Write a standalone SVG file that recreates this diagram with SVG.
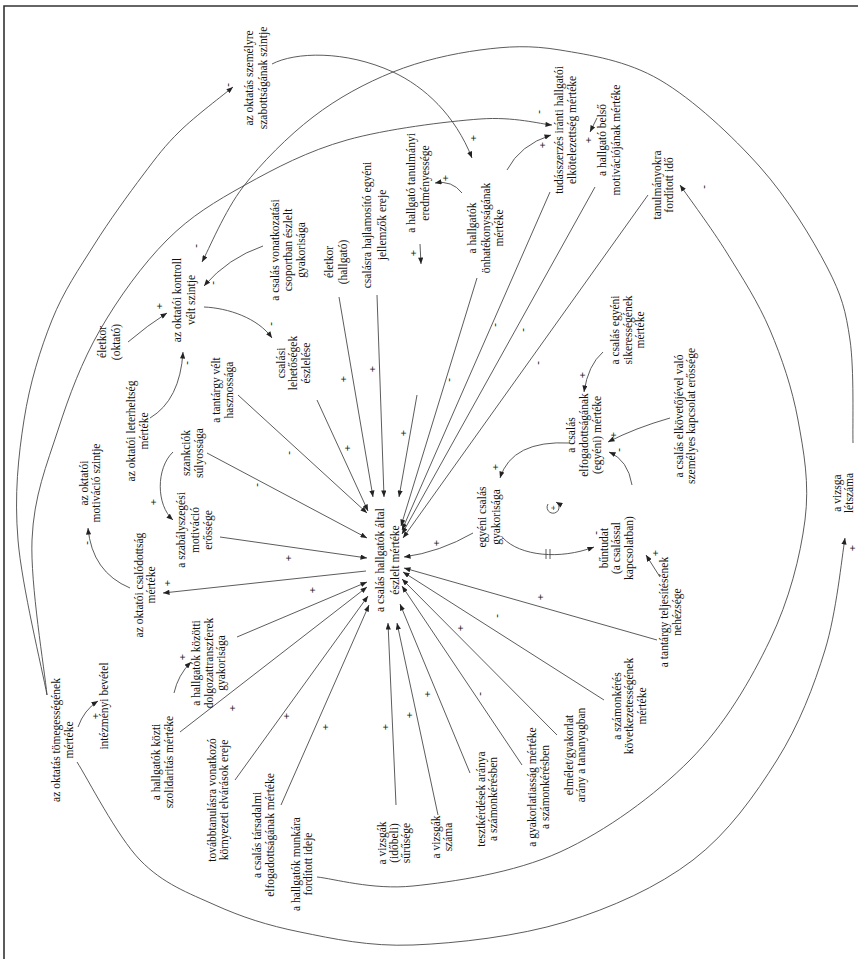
<svg xmlns="http://www.w3.org/2000/svg" width="858" height="959" viewBox="0 0 858 959">
<style>
.t{font-family:"Liberation Serif","Times New Roman",serif;font-size:11.5px;fill:#111;text-anchor:middle}
.s{font-family:"Liberation Serif","Times New Roman",serif;font-size:11px;font-weight:bold;fill:#222;text-anchor:middle;dominant-baseline:central}
.c path{fill:none;stroke:#4a4a4a;stroke-width:0.9;marker-end:url(#ah)}
.c path.n{marker-end:none}
</style>
<defs>
<marker id="ah" viewBox="0 0 10 8" refX="10" refY="4" markerWidth="7" markerHeight="5.2" markerUnits="userSpaceOnUse" orient="auto"><path d="M0,0 L10,4 L0,8 z" fill="#222"/></marker>
</defs>
<rect width="858" height="959" fill="#fff"/>
<path d="M4,959 V6 H858" fill="none" stroke="#333" stroke-width="1.6"/>

<g id="connectors" class="c">
<path d="M317,400 L368,511"/>
<path d="M339,297 L373,497"/>
<path d="M377,295 L384,497"/>
<path d="M417,395 L399,497"/>
<path d="M477,278 L401,526"/>
<path d="M550,192 L402,530"/>
<path d="M595,187 L402,534"/>
<path d="M648,195 L403,538"/>
<path d="M473,533 Q440,552 404,557"/>
<path d="M657,640 L404,568"/>
<path d="M604,700 L403,572"/>
<path d="M557,735 L402,579"/>
<path d="M522,765 L402,586"/>
<path d="M470,773 L400,604"/>
<path d="M438,815 L397,623"/>
<path d="M396,805 L388,623"/>
<path d="M281,805 L369,605"/>
<path d="M235,780 L368,596"/>
<path d="M180,732 L367,587"/>
<path d="M237,637 L367,582"/>
<path d="M220,537 L367,558"/>
<path d="M207,453 L367,538"/>
<path d="M238,395 L367,513"/>
<path d="M366,571 L163,593"/>
<path d="M130,588 Q92,572 88,528"/>
<path d="M173,452 C156,468 156,505 173,520"/>
<path d="M150,418 Q180,400 183,352"/>
<path d="M128,342 Q148,325 167,313"/>
<path d="M263,246 Q228,258 204,286"/>
<path d="M204,307 C228,308 258,318 272,338"/>
<path d="M853,443 C852.5,425.8 854.3,369.3 850,340 C845.7,310.7 842,295.8 827,267 C812,238.2 787.8,198.2 760,167 C732.2,135.8 693.3,99.5 660,80 C626.7,60.5 590,55 560,50 C530,45 507.8,46.3 480,50 C452.2,53.7 420.8,60.8 393,72 C365.2,83.2 338,97.8 313,117 C288,136.2 261.5,162.8 243,187 C224.5,211.2 208.8,249.5 202,262"/>
<path d="M47,695 C42.2,669.2 21.8,585.8 18,540 C14.2,494.2 18.3,456.7 24,420 C29.7,383.3 40.3,349.2 52,320 C63.7,290.8 78.8,269.2 94,245 C109.2,220.8 128.7,194 143,175 C157.3,156 165,145.7 180,131 C195,116.3 224.2,94.3 233,87"/>
<path d="M47,695 C44.5,669.2 30.2,584.2 32,540 C33.8,495.8 46.7,465 58,430 C69.3,395 81.8,361.7 100,330 C118.2,298.3 142.8,264.2 167,240 C191.2,215.8 215,201.7 245,185 C275,168.3 307.8,151 347,140 C386.2,129 445.8,121.5 480,119 C514.2,116.5 540,124 552,125"/>
<path d="M272,64 C295,52 345,50 393,72 C425,87 455,115 472,158"/>
<path d="M462,193 Q452,180 435,183"/>
<path d="M507,170 Q520,145 551,135"/>
<path d="M597,118 L590,132"/>
<path d="M420,244 L421,264"/>
<path d="M317,877 C333,878.5 372.5,890.2 413,886 C453.5,881.8 513.8,873 560,852 C606.2,831 655,795.3 690,760 C725,724.7 750.8,680 770,640 C789.2,600 800.3,556.7 805,520 C809.7,483.3 803.8,451.7 798,420 C792.2,388.3 781.8,357.8 770,330 C758.2,302.2 742,277.2 727,253 C712,228.8 687.8,196.3 680,185"/>
<path d="M77,762 C87.5,778.3 117,836.2 140,860 C163,883.8 188.3,893 215,905 C241.7,917 267,925.3 300,932 C333,938.7 368.8,946.7 413,945 C457.2,943.3 518.3,936.2 565,922 C611.7,907.8 657.7,887 693,860 C728.3,833 755,795 777,760 C799,725 813.7,686.7 825,650 C836.3,613.3 841.7,558.3 845,538"/>
<path d="M603,352 Q588,365 584,392"/>
<path d="M670,418 Q635,428 608,442"/>
<path d="M632,485 Q628,460 609,452"/>
<path d="M660,577 L646,555"/>
<path d="M503,538 C520,556 560,560 594,547"/>
<path d="M570,443 Q512,440 500,478"/>
<path d="M174,693 Q178,675 191,662"/>
<path d="M78,727 Q84,710 98,701"/>
<path class="n" d="M546,549 V559 M550,549 V559"/>
<path d="M548,504 A6,6 0 1 0 556,502"/>
</g>

<g id="signs">
<text class="s" transform="translate(343,379) rotate(-90)">+</text>
<text class="s" transform="translate(372,369) rotate(-90)">+</text>
<text class="s" transform="translate(347,448) rotate(-90)">+</text>
<text class="s" transform="translate(403,433) rotate(-90)">+</text>
<text class="s" transform="translate(448,380) rotate(-90)">-</text>
<text class="s" transform="translate(494,325) rotate(-90)">-</text>
<text class="s" transform="translate(522,330) rotate(-90)">-</text>
<text class="s" transform="translate(537,363) rotate(-90)">-</text>
<text class="s" transform="translate(436,543) rotate(-90)">+</text>
<text class="s" transform="translate(540,597) rotate(-90)">+</text>
<text class="s" transform="translate(496,616) rotate(-90)">-</text>
<text class="s" transform="translate(460,628) rotate(-90)">+</text>
<text class="s" transform="translate(479,694) rotate(-90)">-</text>
<text class="s" transform="translate(427,694) rotate(-90)">+</text>
<text class="s" transform="translate(409,715) rotate(-90)">+</text>
<text class="s" transform="translate(385,727) rotate(-90)">+</text>
<text class="s" transform="translate(325,727) rotate(-90)">+</text>
<text class="s" transform="translate(286,716) rotate(-90)">+</text>
<text class="s" transform="translate(232,708) rotate(-90)">+</text>
<text class="s" transform="translate(312,590) rotate(-90)">+</text>
<text class="s" transform="translate(288,558) rotate(-90)">+</text>
<text class="s" transform="translate(256,485) rotate(-90)">-</text>
<text class="s" transform="translate(288,453) rotate(-90)">-</text>
<text class="s" transform="translate(167,583) rotate(-90)">+</text>
<text class="s" transform="translate(86,543) rotate(-90)">-</text>
<text class="s" transform="translate(153,502) rotate(-90)">+</text>
<text class="s" transform="translate(186,363) rotate(-90)">-</text>
<text class="s" transform="translate(159,306) rotate(-90)">+</text>
<text class="s" transform="translate(212,283) rotate(-90)">-</text>
<text class="s" transform="translate(195,246) rotate(-90)">-</text>
<text class="s" transform="translate(270,324) rotate(-90)">-</text>
<text class="s" transform="translate(227,85) rotate(-90)">-</text>
<text class="s" transform="translate(473,138) rotate(-90)">+</text>
<text class="s" transform="translate(445,178) rotate(-90)">+</text>
<text class="s" transform="translate(413,253) rotate(-90)">+</text>
<text class="s" transform="translate(538,112) rotate(-90)">-</text>
<text class="s" transform="translate(542,145) rotate(-90)">+</text>
<text class="s" transform="translate(588,140) rotate(-90)">+</text>
<text class="s" transform="translate(703,187) rotate(-90)">-</text>
<text class="s" transform="translate(582,375) rotate(-90)">+</text>
<text class="s" transform="translate(613,435) rotate(-90)">+</text>
<text class="s" transform="translate(618,450) rotate(-90)">-</text>
<text class="s" transform="translate(655,553) rotate(-90)">+</text>
<text class="s" transform="translate(595,533) rotate(-90)">-</text>
<text class="s" transform="translate(495,467) rotate(-90)">+</text>
<text class="s" transform="translate(852,548) rotate(-90)">+</text>
<text class="s" transform="translate(182,657) rotate(-90)">+</text>
<text class="s" transform="translate(95,716) rotate(-90)">+</text>
<text class="s" transform="translate(553,508) rotate(-90)" style="font-size:9px">+</text>
</g>

<g id="n-center"><text class="t" transform="translate(384,560) rotate(-90)"><tspan x="0" y="0">a csalás hallgatók által</tspan><tspan x="0" y="15">észlelt mértéke</tspan></text></g>
<g id="n-szemelyre"><text class="t" transform="translate(253,78) rotate(-90)"><tspan x="0" y="0">az oktatás személyre</tspan><tspan x="0" y="14">szabottságának szintje</tspan></text></g>
<g id="n-vonatkozatasi"><text class="t" transform="translate(279,250) rotate(-90)"><tspan x="0" y="0">a csalás vonatkozatási</tspan><tspan x="0" y="13">csoportban észlelt</tspan><tspan x="0" y="26">gyakorisága</tspan></text></g>
<g id="n-kontroll"><text class="t" transform="translate(181,300) rotate(-90)"><tspan x="0" y="0">az oktatói kontroll</tspan><tspan x="0" y="14">vélt szintje</tspan></text></g>
<g id="n-eletkor-oktato"><text class="t" transform="translate(106,342) rotate(-90)"><tspan x="0" y="0">életkor</tspan><tspan x="0" y="14">(oktató)</tspan></text></g>
<g id="n-leterheltseg"><text class="t" transform="translate(135,431) rotate(-90)"><tspan x="0" y="0">az oktatói leterheltség</tspan><tspan x="0" y="13">mértéke</tspan></text></g>
<g id="n-motivacio"><text class="t" transform="translate(88,483) rotate(-90)"><tspan x="0" y="0">az oktatói</tspan><tspan x="0" y="12">motiváció szintje</tspan></text></g>
<g id="n-csalodottsag"><text class="t" transform="translate(143,585) rotate(-90)"><tspan x="0" y="0">az oktatói csalódottság</tspan><tspan x="0" y="12">mértéke</tspan></text></g>
<g id="n-hasznossag"><text class="t" transform="translate(220,390) rotate(-90)"><tspan x="0" y="0">a tantárgy vélt</tspan><tspan x="0" y="13">hasznossága</tspan></text></g>
<g id="n-szankciok"><text class="t" transform="translate(190,453) rotate(-90)"><tspan x="0" y="0">szankciók</tspan><tspan x="0" y="13">súlyossága</tspan></text></g>
<g id="n-szabalyszegesi"><text class="t" transform="translate(185,530) rotate(-90)"><tspan x="0" y="0">a szabályszegési</tspan><tspan x="0" y="14">motiváció</tspan><tspan x="0" y="27">erőssége</tspan></text></g>
<g id="n-csalasi-lehetosegek"><text class="t" transform="translate(285,363) rotate(-90)"><tspan x="0" y="0">csalási</tspan><tspan x="0" y="12">lehetőségek</tspan><tspan x="0" y="25">észlelése</tspan></text></g>
<g id="n-eletkor-hallgato"><text class="t" transform="translate(333,262) rotate(-90)"><tspan x="0" y="0">életkor</tspan><tspan x="0" y="14">(hallgató)</tspan></text></g>
<g id="n-hajlamosito"><text class="t" transform="translate(371,225) rotate(-90)"><tspan x="0" y="0">csalásra hajlamosító egyéni</tspan><tspan x="0" y="15">jellemzők ereje</tspan></text></g>
<g id="n-eredmenyesseg"><text class="t" transform="translate(415,183) rotate(-90)"><tspan x="0" y="0">a hallgató tanulmányi</tspan><tspan x="0" y="14">eredményessége</tspan></text></g>
<g id="n-onhatekonysag"><text class="t" transform="translate(476,228) rotate(-90)"><tspan x="0" y="0">a hallgatók</tspan><tspan x="0" y="14">önhatékonyságának</tspan><tspan x="0" y="27">mértéke</tspan></text></g>
<g id="n-tudasszerzes"><text class="t" transform="translate(563,130) rotate(-90)"><tspan x="0" y="0">tudásszerzés iránti hallgatói</tspan><tspan x="0" y="13">elkötelezettség mértéke</tspan></text></g>
<g id="n-belso-motivacio"><text class="t" transform="translate(606,140) rotate(-90)"><tspan x="0" y="0">a hallgató belső</tspan><tspan x="0" y="14">motivációjának mértéke</tspan></text></g>
<g id="n-tanulmanyokra"><text class="t" transform="translate(661,185) rotate(-90)"><tspan x="0" y="0">tanulmányokra</tspan><tspan x="0" y="12">fordított idő</tspan></text></g>
<g id="n-sikeresseg"><text class="t" transform="translate(619,330) rotate(-90)"><tspan x="0" y="0">a csalás egyéni</tspan><tspan x="0" y="13">sikerességének</tspan><tspan x="0" y="25">mértéke</tspan></text></g>
<g id="n-elfogadottsag"><text class="t" transform="translate(575,435) rotate(-90)"><tspan x="0" y="0">a csalás</tspan><tspan x="0" y="13">elfogadottságának</tspan><tspan x="0" y="26">(egyéni) mértéke</tspan></text></g>
<g id="n-kapcsolat"><text class="t" transform="translate(683,416) rotate(-90)"><tspan x="0" y="0">a csalás elkövetőjével való</tspan><tspan x="0" y="12">személyes kapcsolat erőssége</tspan></text></g>
<g id="n-egyeni-csalas"><text class="t" transform="translate(486,517) rotate(-90)"><tspan x="0" y="0">egyéni csalás</tspan><tspan x="0" y="14">gyakorisága</tspan></text></g>
<g id="n-buntudat"><text class="t" transform="translate(608,548) rotate(-90)"><tspan x="0" y="0">bűntudat</tspan><tspan x="0" y="12">(a csalással</tspan><tspan x="0" y="25">kapcsolatban)</tspan></text></g>
<g id="n-nehezseg"><text class="t" transform="translate(668,612) rotate(-90)"><tspan x="0" y="0">a tantárgy teljesítésének</tspan><tspan x="0" y="13">nehézsége</tspan></text></g>
<g id="n-szamonkeres"><text class="t" transform="translate(621,706) rotate(-90)"><tspan x="0" y="0">a számonkérés</tspan><tspan x="0" y="12">következetességének</tspan><tspan x="0" y="25">mértéke</tspan></text></g>
<g id="n-elmelet"><text class="t" transform="translate(573,755) rotate(-90)"><tspan x="0" y="0">elmélet/gyakorlat</tspan><tspan x="0" y="12">arány a tananyagban</tspan></text></g>
<g id="n-gyakorlatiassag"><text class="t" transform="translate(536,787) rotate(-90)"><tspan x="0" y="0">a gyakorlatiasság mértéke</tspan><tspan x="0" y="13">a számonkérésben</tspan></text></g>
<g id="n-tesztkerdesek"><text class="t" transform="translate(485,799) rotate(-90)"><tspan x="0" y="0">tesztkérdések aránya</tspan><tspan x="0" y="12">a számonkérésben</tspan></text></g>
<g id="n-vizsgak-szama"><text class="t" transform="translate(440,837) rotate(-90)"><tspan x="0" y="0">a vizsgák</tspan><tspan x="0" y="12">száma</tspan></text></g>
<g id="n-vizsgak-surusege"><text class="t" transform="translate(386,843) rotate(-90)"><tspan x="0" y="0">a vizsgák</tspan><tspan x="0" y="12">(időbeli)</tspan><tspan x="0" y="24">sűrűsége</tspan></text></g>
<g id="n-munkara"><text class="t" transform="translate(300,864) rotate(-90)"><tspan x="0" y="0">a hallgatók munkára</tspan><tspan x="0" y="12">fordított ideje</tspan></text></g>
<g id="n-tarsadalmi"><text class="t" transform="translate(261,835) rotate(-90)"><tspan x="0" y="0">a csalás társadalmi</tspan><tspan x="0" y="13">elfogadottságának mértéke</tspan></text></g>
<g id="n-tovabbtanulas"><text class="t" transform="translate(216,800) rotate(-90)"><tspan x="0" y="0">továbbtanulásra vonatkozó</tspan><tspan x="0" y="12">környezeti elvárások ereje</tspan></text></g>
<g id="n-szolidaritas"><text class="t" transform="translate(160,762) rotate(-90)"><tspan x="0" y="0">a hallgatók közti</tspan><tspan x="0" y="13">szolidaritás mértéke</tspan></text></g>
<g id="n-dolgozattranszfer"><text class="t" transform="translate(200,663) rotate(-90)"><tspan x="0" y="0">a hallgatók közötti</tspan><tspan x="0" y="13">dolgozattranszferek</tspan><tspan x="0" y="25">gyakorisága</tspan></text></g>
<g id="n-tomegesseg"><text class="t" transform="translate(60,740) rotate(-90)"><tspan x="0" y="0">az oktatás tömegességének</tspan><tspan x="0" y="13">mértéke</tspan></text></g>
<g id="n-bevetel"><text class="t" transform="translate(108,706) rotate(-90)">intézményi bevétel</text></g>
<g id="n-vizsga-letszam"><text class="t" transform="translate(841,493) rotate(-90)"><tspan x="0" y="0">a vizsga</tspan><tspan x="0" y="12">létszáma</tspan></text></g>
</svg>
